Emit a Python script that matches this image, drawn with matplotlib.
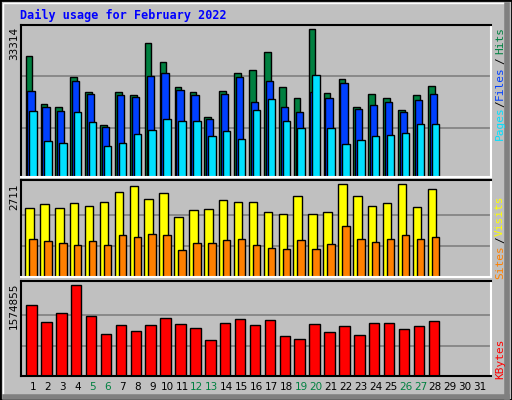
import matplotlib
matplotlib.use("Agg")
import matplotlib.pyplot as plt
from matplotlib.patches import Rectangle
from matplotlib.lines import Line2D
import numpy as np

days = list(range(1, 32))
weekend = [5, 6, 12, 13, 19, 20, 26, 27]
hits = [27195,16544,15864,22435,19036,11784,19036,18356,30140,25835,20170,19036,13597,19263,
        23342,24021,28101,20170,17676,33314,18810,21982,15864,18583,17676,15184,18356,20396]
files = [19263,15864,14957,21529,18583,11331,18356,17903,22662,23342,19490,18356,13144,18583,
         22435,16770,21529,15864,14730,19036,17676,21076,15410,16317,16770,14730,17224,18583]
pages = [14957,8158,7705,14730,12464,7025,7705,9745,10651,13144,12691,12691,9291,10424,
         8611,15184,17450,12691,11104,22888,11104,7478,8385,9291,9518,9971,12011,12011]
visits = [2006,2124,2006,2153,2065,2183,2476,2652,2271,2447,1742,1948,1977,2241,
          2183,2183,1889,1830,2359,1830,1889,2711,2359,2065,2153,2711,2036,2564]
sites = [1126,1067,1008,949,1067,949,1214,1184,1272,1214,803,1008,1008,1096,
         1126,949,861,832,1096,832,979,1478,1126,1037,1126,1214,1126,1184]
kbytes = [1229986,936859,1092044,1574855,1040316,729945,885130,781674,885130,1005830,902373,
          833402,626488,919616,988587,885130,971344,695460,643731,902373,764431,867888,712702,
          919616,919616,816159,867888,954102]

W, H = 512, 400
BG = "#c0c0c0"
fig = plt.figure(figsize=(W/100, H/100), dpi=100, facecolor=BG)

def fx(x): return x / W
def fy(y): return 1 - y / H

# frame bevel
fig.add_artist(Rectangle((0, 0), 1, 1, transform=fig.transFigure, fill=False, ec="black", lw=2))
fig.add_artist(Line2D([fx(3), fx(3), fx(505)], [fy(397), fy(3), fy(3)], transform=fig.transFigure, color="white", lw=1))
fig.add_artist(Line2D([fx(507), fx(507)], [fy(397), fy(5)], transform=fig.transFigure, color="#808080", lw=4))
fig.add_artist(Line2D([fx(5), fx(507)], [fy(397), fy(397)], transform=fig.transFigure, color="#808080", lw=4))

x = np.array(range(1, len(hits) + 1))
xl = (0.195, 31.74)

def mkax(top, bot):
    ax = fig.add_axes([fx(21), fy(bot), fx(491 - 21), (bot - top) / H])
    ax.set_facecolor(BG)
    ax.set_xlim(*xl)
    ax.set_xticks([]); ax.set_yticks([])
    ax.spines["left"].set_color("black"); ax.spines["top"].set_color("black")
    ax.spines["right"].set_color("white"); ax.spines["bottom"].set_color("white")
    for s in ax.spines.values(): s.set_linewidth(1.5)
    return ax

kw = dict(edgecolor="black", linewidth=1, align="edge")

ax1 = mkax(25, 177)
ax1.set_ylim(0, 34214)
for g in (11105, 22660):
    ax1.axhline(g, color="#808080", lw=1.2, zorder=0)
ax1.bar(x - 0.49, hits, width=0.44, color="#008040", **kw)
ax1.bar(x - 0.38, files, width=0.49, color="#0040ff", **kw)
ax1.bar(x - 0.25, pages, width=0.5, color="#00e0ff", **kw)

ax2 = mkax(180, 277)
ax2.set_ylim(0, 2837)
for g in (2711/3, 2711*2/3):
    ax2.axhline(g, color="#808080", lw=1.2, zorder=0)
ax2.bar(x - 0.52, visits, width=0.57, color="#ffff00", **kw)
ax2.bar(x - 0.25, sites, width=0.5, color="#ff8000", **kw)

ax3 = mkax(281, 376)
ax3.set_ylim(0, 1636883)
ax3.spines["bottom"].set_color("black")
ax3.spines["right"].set_color("white")
for g in (1574855*2/3, 1574855/3):
    ax3.axhline(g, color="#808080", lw=1.2, zorder=0)
ax3.bar(x - 0.45, kbytes, width=0.7, color="#ff0000", **kw)

for d in days:
    ax3.text(d, -0.12, str(d), transform=ax3.get_xaxis_transform(), ha="center", va="center",
             fontsize=7.5, color="#008040" if d in weekend else "black")

mono = "DejaVu Sans Mono"
fig.text(fx(20), fy(15), "Daily usage for February 2022", fontsize=8.5, fontweight="bold",
         family=mono, color="#0000ff", va="center", ha="left")

for lbl, y in (("33314", 27), ("2711", 183), ("1574855", 283)):
    fig.text(fx(14), fy(y), lbl, rotation=90, ha="center", va="top", fontsize=7.5, color="black")

def vt(s, y, c):
    fig.text(fx(500), fy(y), s, rotation=90, ha="center", va="center", fontsize=8, family=mono, color=c)

vt("Hits", 40, "#008040"); vt("/", 61, "black"); vt("Files", 83, "#0040ff")
vt("/", 104, "black"); vt("Pages", 123, "#00e0ff")
vt("Visits", 216, "#ffff00"); vt("/", 240, "black"); vt("Sites", 262, "#ff8000")
vt("KBytes", 359, "#ff0000")

fig.savefig("out.png", dpi=100, facecolor=BG)
